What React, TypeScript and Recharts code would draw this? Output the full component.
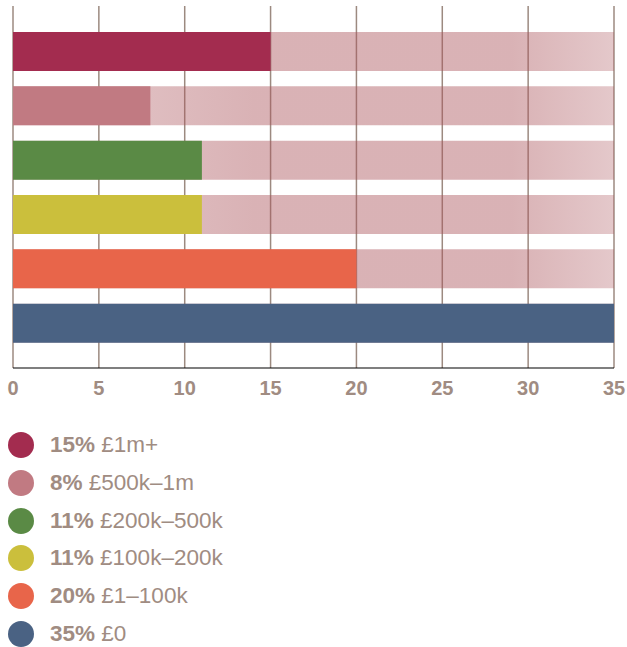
import React from "react";
import { BarChart, Bar, XAxis, YAxis, CartesianGrid, Cell } from "recharts";

const categories = ["£1m+", "£500k–1m", "£200k–500k", "£100k–200k", "£1–100k", "£0"];
const values = [15, 8, 11, 11, 20, 35];
const colors = ["#a32c4f", "#c17a82", "#5a8a45", "#cbbf3c", "#e8654a", "#4a6283"];
const xTicks = [0, 5, 10, 15, 20, 25, 30, 35];

const data = categories.map((c, i) => ({ name: c, value: values[i] }));

const textColor = "#a08c82";
const font = "'Liberation Sans', Arial, sans-serif";

export default function App() {
  return (
    <div style={{ position: "absolute", left: 0, top: 0, width: 627, height: 647, background: "#fff", fontFamily: font }}>
      <BarChart
        width={627}
        height={410}
        data={data}
        layout="vertical"
        margin={{ top: 6, right: 13, left: 13, bottom: 0 }}
      >
        <defs>
          <linearGradient id="bgGrad" x1="0" y1="0" x2="1" y2="0">
            <stop offset="0" stopColor="#ab545b" stopOpacity={0.3} />
            <stop offset="0.4" stopColor="#ab545b" stopOpacity={0.45} />
            <stop offset="0.83" stopColor="#ab545b" stopOpacity={0.45} />
            <stop offset="1" stopColor="#ab545b" stopOpacity={0.32} />
          </linearGradient>
        </defs>
        <CartesianGrid horizontal={false} stroke="#9c8a80" strokeWidth={1.5} />
        <XAxis
          type="number"
          domain={[0, 35]}
          ticks={xTicks}
          interval={0}
          tickLine={false}
          tickSize={6}
          tickMargin={7}
          axisLine={{ stroke: "#000", strokeWidth: 1.2 }}
          height={42}
          tick={{ fill: textColor, fontSize: 20, fontFamily: font, fontWeight: "bold" }}
        />
        <YAxis type="category" dataKey="name" hide padding={{ top: 18, bottom: 18 }} />
        <Bar
          dataKey="value"
          barSize={39}
          isAnimationActive={false}
          background={{ fill: "url(#bgGrad)" }}
        >
          {data.map((d, i) => (
            <Cell key={d.name} fill={colors[i]} />
          ))}
        </Bar>
      </BarChart>
      {categories.map((c, i) => (
        <div
          key={c}
          style={{
            position: "absolute",
            left: 8,
            top: 445 + i * 37.8 - 13,
            height: 26,
            display: "flex",
            alignItems: "center",
            whiteSpace: "nowrap",
          }}
        >
          <div style={{ width: 26, height: 26, borderRadius: 13, background: colors[i] }} />
          <div style={{ marginLeft: 16, fontSize: 22.5, color: textColor, lineHeight: "26px" }}>
            <span style={{ fontWeight: "bold" }}>{values[i]}%</span> {c}
          </div>
        </div>
      ))}
    </div>
  );
}
